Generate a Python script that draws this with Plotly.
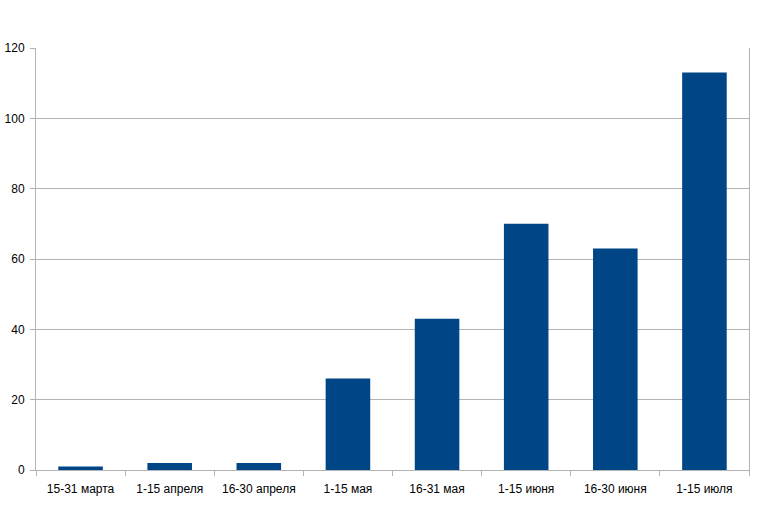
import plotly.graph_objects as go

categories = ["15-31 марта", "1-15 апреля", "16-30 апреля", "1-15 мая", "16-31 мая",
              "1-15 июня", "16-30 июня", "1-15 июля"]
values = [1, 2, 2, 26, 43, 70, 63, 113]
y_ticks = [0, 20, 40, 60, 80, 100, 120]

fig = go.Figure(go.Bar(x=categories, y=values, marker=dict(color="#004586", line=dict(width=0)),
                       width=0.5))
grid = "#b3b3b3"
fig.update_layout(
    width=779, height=517,
    margin=dict(l=36, r=30, t=48, b=47),
    paper_bgcolor="white", plot_bgcolor="white",
    font=dict(family="Liberation Sans, Arial, sans-serif", size=12, color="black"),
    showlegend=False,
    xaxis=dict(showline=True, linecolor=grid, linewidth=1, ticks="outside", ticklen=5,
               tickcolor=grid, tickson="boundaries", showgrid=False, ticklabelstandoff=8,
               automargin=False),
    yaxis=dict(range=[0, 120], tickvals=y_ticks, showgrid=True, gridcolor=grid, gridwidth=1,
               showline=True, linecolor=grid, linewidth=1, mirror=True, ticks="outside",
               ticklen=5, tickcolor=grid, zeroline=False, ticklabelstandoff=3,
               automargin=False),
)
fig.write_html("out.html")
